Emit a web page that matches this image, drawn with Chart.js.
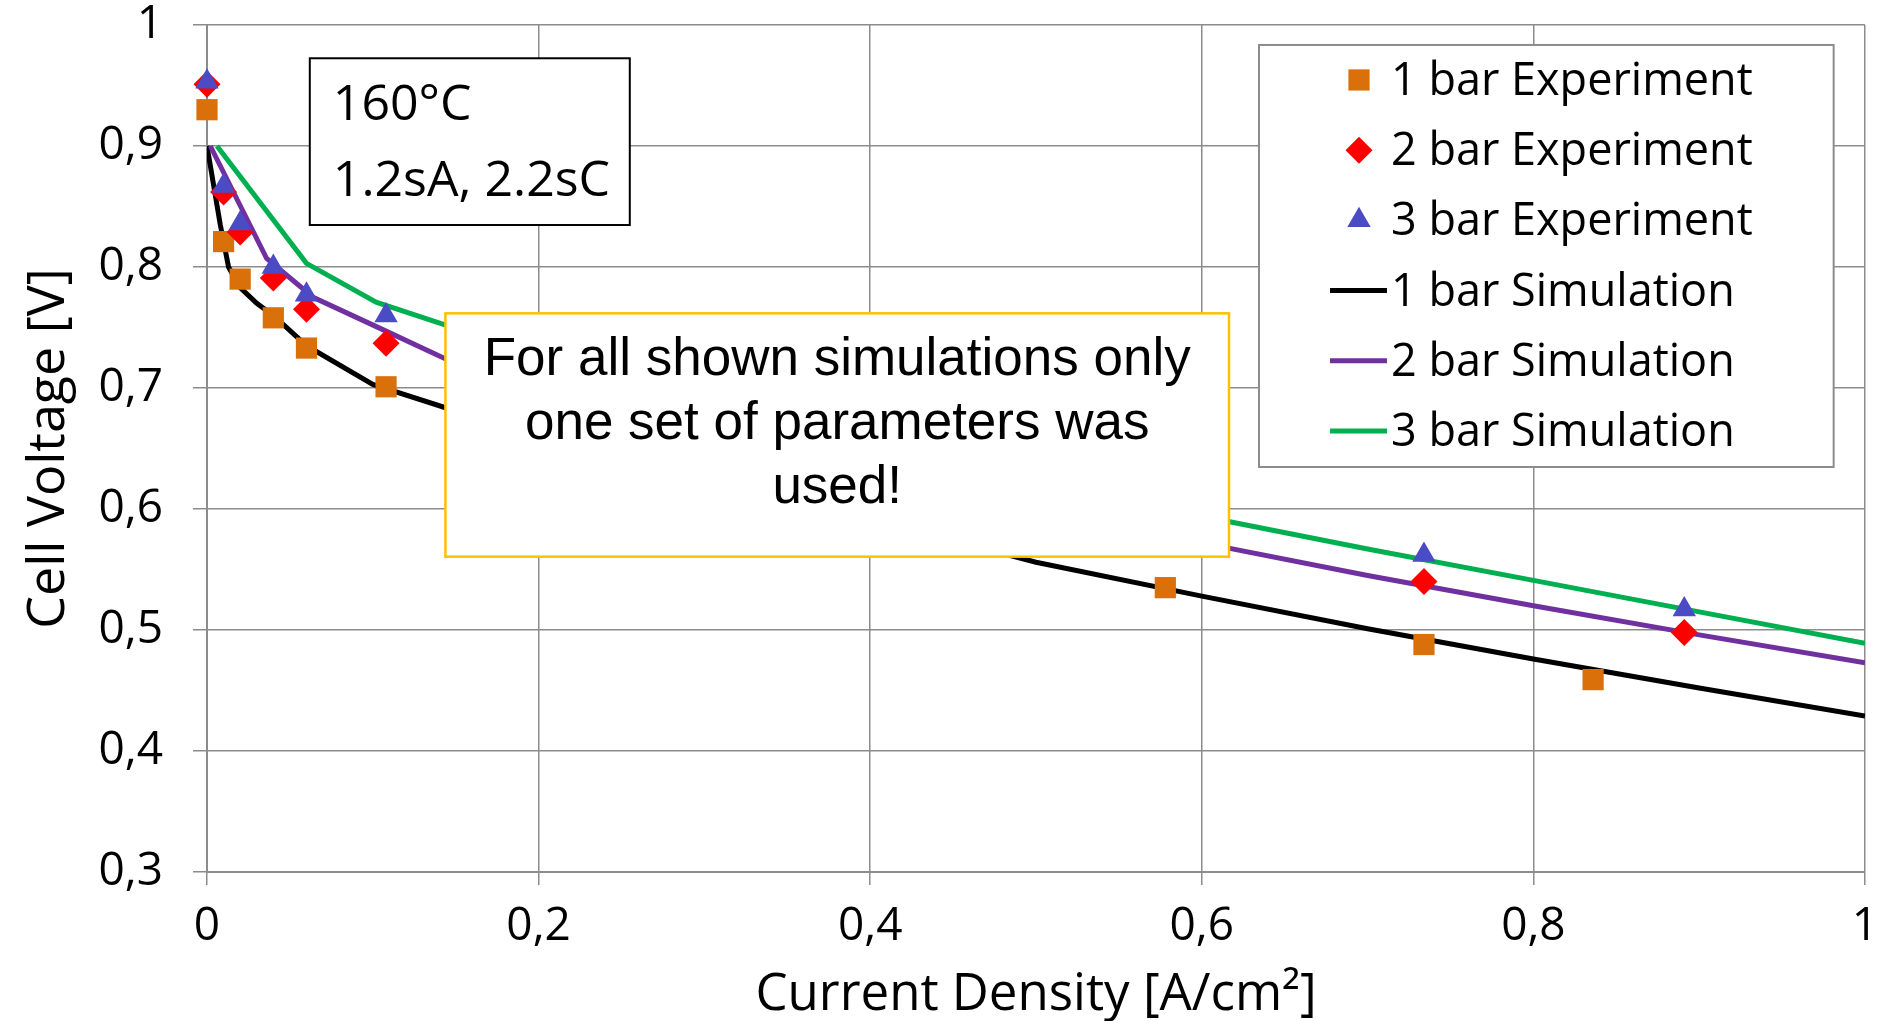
<!DOCTYPE html>
<html>
<head>
<meta charset="utf-8">
<script src="https://cdn.jsdelivr.net/npm/chart.js@4.4.1/dist/chart.umd.min.js"></script>
<style>
  html, body { margin: 0; padding: 0; background: #fff; }
  #wrap { width: 1880px; height: 1021px; position: relative; }
</style>
</head>
<body>
<div id="wrap"><canvas id="voltage-chart"></canvas></div>
<script>
// measured points (current density A/cm², cell voltage V)
let exp1X = [0, 0.01, 0.02, 0.04, 0.06, 0.108, 0.578, 0.734, 0.836];
let exp1Y = [0.930, 0.821, 0.790, 0.758, 0.733, 0.701, 0.535, 0.488, 0.459];

let exp2X = [0, 0.01, 0.02, 0.04, 0.06, 0.108, 0.734, 0.891];
let exp2Y = [0.951, 0.862, 0.829, 0.791, 0.765, 0.737, 0.540, 0.498];

let exp3X = [0, 0.01, 0.02, 0.04, 0.06, 0.108, 0.734, 0.891];
let exp3Y = [0.953, 0.867, 0.836, 0.800, 0.777, 0.760, 0.562, 0.517];

// simulation curves
let sim1X = [0, 0.008, 0.013, 0.02, 0.03, 0.04, 0.06, 0.1, 0.15, 0.2, 0.3, 0.4, 0.5, 0.6, 0.7, 0.8, 0.9, 1.0];
let sim1Y = [0.900, 0.835, 0.800, 0.783, 0.770, 0.760, 0.735, 0.703, 0.681, 0.665, 0.628, 0.592, 0.556, 0.528, 0.501, 0.476, 0.452, 0.429];

let sim2X = [0.002, 0.036, 0.064, 0.108, 0.144, 0.2, 0.3, 0.4, 0.5, 0.6, 0.7, 0.8, 0.9, 1.0];
let sim2Y = [0.900, 0.807, 0.775, 0.747, 0.724, 0.700, 0.664, 0.630, 0.600, 0.572, 0.545, 0.520, 0.496, 0.473];

let sim3X = [0.006, 0.060, 0.102, 0.144, 0.2, 0.3, 0.4, 0.5, 0.6, 0.7, 0.8, 0.9, 1.0];
let sim3Y = [0.900, 0.803, 0.771, 0.752, 0.728, 0.692, 0.657, 0.624, 0.594, 0.567, 0.541, 0.515, 0.489];

let seriesLabels = ["1 bar Experiment", "2 bar Experiment", "3 bar Experiment",
                    "1 bar Simulation", "2 bar Simulation", "3 bar Simulation"];

let tempText = ["160°C", "1.2sA, 2.2sC"];
let noteText = ["For all shown simulations only", "one set of parameters was", "used!"];

function pts(xs, ys) {
    return xs.map((x, i) => ({ x: x, y: ys[i] }));
}

function comma(v) {
    return String(Math.round(v * 10) / 10).replace(".", ",");
}

function marker(ctx, style, x, y, r) {
    ctx.beginPath();
    if (style === "rect") {
        let s = r * Math.SQRT1_2;
        ctx.rect(x - s, y - s, 2 * s, 2 * s);
    } else if (style === "rectRot") {
        ctx.moveTo(x, y - r);
        ctx.lineTo(x + r, y);
        ctx.lineTo(x, y + r);
        ctx.lineTo(x - r, y);
        ctx.closePath();
    } else {
        ctx.moveTo(x, y - r);
        ctx.lineTo(x + r * 0.866, y + r / 2);
        ctx.lineTo(x - r * 0.866, y + r / 2);
        ctx.closePath();
    }
    ctx.fill();
}

// boxes drawn on top, anchored in data coordinates
const overlays = {
    id: "overlays",
    afterDraw(chart) {
        let ctx = chart.ctx;
        let xs = chart.scales.x, ys = chart.scales.y;

        // temperature box
        let l = xs.getPixelForValue(0.062), r = xs.getPixelForValue(0.255);
        let t = ys.getPixelForValue(0.9725), b = ys.getPixelForValue(0.8347);
        ctx.save();
        ctx.fillStyle = "#fff";
        ctx.fillRect(l, t, r - l, b - t);
        ctx.strokeStyle = "#000";
        ctx.lineWidth = 2;
        ctx.strokeRect(l, t, r - l, b - t);
        ctx.fillStyle = "#000";
        ctx.font = "50px 'Open Sans'";
        ctx.textAlign = "left";
        ctx.textBaseline = "alphabetic";
        ctx.fillText(tempText[0], l + 23, t + 62);
        ctx.fillText(tempText[1], l + 23, t + 138);

        // note box
        l = xs.getPixelForValue(0.1438); r = xs.getPixelForValue(0.6164);
        t = ys.getPixelForValue(0.7617); b = ys.getPixelForValue(0.5606);
        ctx.fillStyle = "#fff";
        ctx.fillRect(l, t, r - l, b - t);
        ctx.strokeStyle = "#FFC000";
        ctx.lineWidth = 2.5;
        ctx.strokeRect(l, t, r - l, b - t);
        ctx.fillStyle = "#000";
        ctx.font = "53px 'Liberation Sans', Arial";
        ctx.textAlign = "center";
        noteText.forEach((s, i) => ctx.fillText(s, (l + r) / 2, t + 62 + i * 64));

        // legend
        l = xs.getPixelForValue(0.6345); r = xs.getPixelForValue(0.9811);
        t = ys.getPixelForValue(0.9835); b = ys.getPixelForValue(0.6347);
        ctx.fillStyle = "#fff";
        ctx.fillRect(l, t, r - l, b - t);
        ctx.strokeStyle = "#8c8c8c";
        ctx.lineWidth = 2;
        ctx.strokeRect(l, t, r - l, b - t);
        ctx.font = "45px 'Open Sans'";
        ctx.textAlign = "left";
        chart.data.datasets.forEach((ds, i) => {
            let base = t + 50 + i * 70.2;
            let cy = base - 15;
            if (ds.showLine) {
                ctx.strokeStyle = ds.borderColor;
                ctx.lineWidth = 5;
                ctx.beginPath();
                ctx.moveTo(l + 71, cy);
                ctx.lineTo(l + 128, cy);
                ctx.stroke();
            } else {
                ctx.fillStyle = ds.backgroundColor;
                marker(ctx, ds.pointStyle, l + 100, cy, ds.pointRadius);
            }
            ctx.fillStyle = "#000";
            ctx.fillText(ds.label, l + 132, base);
        });
        ctx.restore();
    }
};

Chart.defaults.font.family = "'Open Sans', sans-serif";
Chart.defaults.color = "#000";

let voltageChart = new Chart(document.getElementById("voltage-chart").getContext("2d"), {
    type: "scatter",
    data: {
        datasets: [
            { label: seriesLabels[0], data: pts(exp1X, exp1Y), pointStyle: "rect", pointRadius: 15,
              backgroundColor: "#D9700A", borderWidth: 0, clip: false, order: 2 },
            { label: seriesLabels[1], data: pts(exp2X, exp2Y), pointStyle: "rectRot", pointRadius: 13.5,
              backgroundColor: "#FF0000", borderWidth: 0, clip: false, order: 1 },
            { label: seriesLabels[2], data: pts(exp3X, exp3Y), pointStyle: "triangle", pointRadius: 13.5,
              backgroundColor: "#4B4BC6", borderWidth: 0, clip: false, order: 0 },
            { label: seriesLabels[3], data: pts(sim1X, sim1Y), showLine: true, pointRadius: 0,
              borderColor: "#000000", borderWidth: 5, order: 5 },
            { label: seriesLabels[4], data: pts(sim2X, sim2Y), showLine: true, pointRadius: 0,
              borderColor: "#7030A0", borderWidth: 5, order: 4 },
            { label: seriesLabels[5], data: pts(sim3X, sim3Y), showLine: true, pointRadius: 0,
              borderColor: "#00B050", borderWidth: 5, order: 3 },
        ],
    },
    options: {
        responsive: true,
        maintainAspectRatio: false,
        animation: false,
        events: [],
        layout: { padding: { top: 25, right: 12, bottom: 0, left: 0 } },
        plugins: { legend: { display: false }, tooltip: { enabled: false } },
        scales: {
            x: {
                type: "linear",
                min: 0,
                max: 1,
                border: { color: "#8c8c8c", width: 2 },
                grid: { color: "#8c8c8c", lineWidth: 1.5, tickLength: 13 },
                ticks: { stepSize: 0.2, padding: 19, font: { size: 46, lineHeight: 1 },
                         maxRotation: 0, callback: (v) => comma(v) },
                title: { display: true, text: "Current Density [A/cm²]",
                         font: { size: 51, lineHeight: 1 }, padding: { top: 0, bottom: 0 } },
                afterFit: (scale) => {
                    scale.height = 149;
                    scale.paddingLeft = 0;
                    scale.paddingRight = 0;
                },
            },
            y: {
                type: "linear",
                min: 0.3,
                max: 1,
                border: { color: "#8c8c8c", width: 2 },
                grid: { color: "#8c8c8c", lineWidth: 1.5, tickLength: 14 },
                ticks: { stepSize: 0.1, padding: 30, font: { size: 46, lineHeight: 1 },
                         callback: (v) => comma(v) },
                title: { display: true, text: "Cell Voltage [V]",
                         font: { size: 52, lineHeight: 1 }, padding: { top: 23, bottom: 0 } },
                afterFit: (scale) => {
                    scale.width = 207;
                    scale.paddingTop = 0;
                    scale.paddingBottom = 0;
                },
            },
        },
    },
    plugins: [overlays],
});
</script>
</body>
</html>
